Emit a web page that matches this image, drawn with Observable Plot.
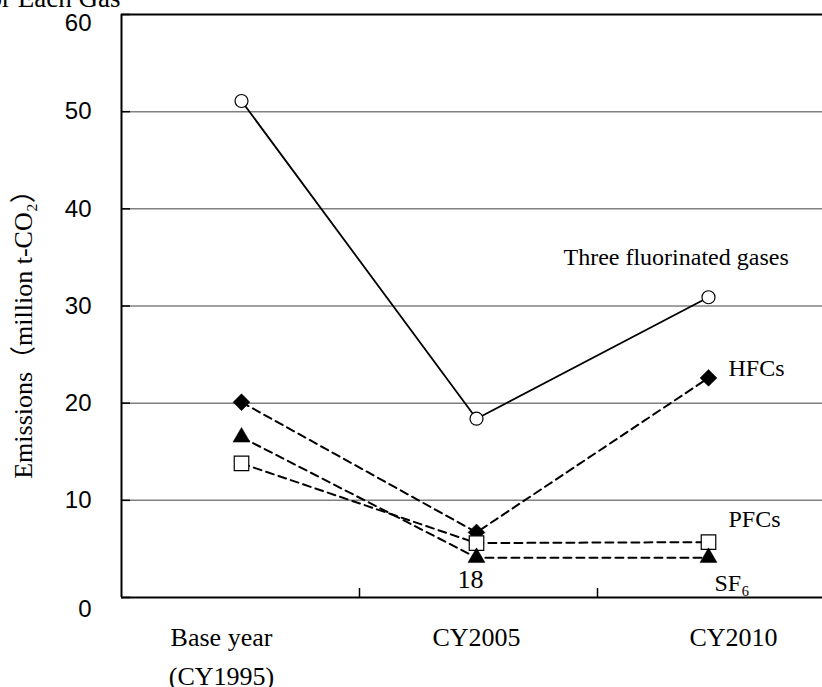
<!DOCTYPE html>
<html>
<head>
<meta charset="utf-8">
<script src="https://cdn.jsdelivr.net/npm/d3@7"></script>
<script src="https://cdn.jsdelivr.net/npm/@observablehq/plot@0.6"></script>
<style>
  html, body { margin: 0; padding: 0; background: #fff; }
  #chart svg { display: block; }
</style>
</head>
<body>
<div id="chart"></div>
<script>
// ---- Data ----
const categories = ["Base year\n(CY1995)", "CY2005", "CY2010"];
const seriesNames = ["Three fluorinated gases", "HFCs", "PFCs", "SF₆"];
const threeGases = [51.1, 18.4, 30.9];
const hfcs = [20.1, 6.7, 22.6];
const pfcs = [13.8, 5.6, 5.7];
const sf6 = [16.5, 4.1, 4.1];
const yTicks = [0, 10, 20, 30, 40, 50, 60];
const totalLabel = "18";
const yLabel = "Emissions（million t-CO₂）";
const title = "Emissions for Each Gas";

// ---- Build rows ----
const seriesValues = [threeGases, hfcs, pfcs, sf6];
const rows = seriesNames.flatMap((name, k) =>
  seriesValues[k].map((v, i) => ({series: name, i, value: v})));
const solidRows = rows.filter(d => d.series === seriesNames[0]);
const dashedRows = rows.filter(d => d.series !== seriesNames[0]);
const bySeries = name => rows.filter(d => d.series === name);
const lastOf = name => bySeries(name).filter(d => d.i === categories.length - 1);

const idx = categories.map((_, i) => i);
const boundaries = idx.slice(1).map(i => i - 0.5);
const leftEdge = -0.5;
const yMin = yTicks[0], yMax = yTicks[yTicks.length - 1];
const yInner = yTicks.filter(t => t > yMin && t < yMax);

const serif = "'Liberation Serif', 'Times New Roman', 'Noto Sans CJK JP', serif";
const sans = "'Liberation Sans', Arial, sans-serif";

const yAxisText = {tickSize: 0, tickPadding: 30, fontSize: 24, fontFamily: sans, label: null};
const xAxisText = {tickFormat: i => categories[i], tickSize: 0, tickPadding: 21,
  fontSize: 26, fontFamily: serif, lineHeight: 1.5, label: null};

const chart = Plot.plot({
  width: 822,
  height: 687,
  marginTop: 14,
  marginBottom: 90,
  marginLeft: 121,
  marginRight: 0,
  style: {color: "black", background: "white", overflow: "visible"},
  x: {type: "linear", domain: [-0.5, 0, 0.5, 1, 1.5, 2], range: [121, 241, 359, 476, 597, 708]},
  y: {domain: [yMin, yMax]},
  marks: [
    // gridlines
    Plot.ruleY(yInner, {stroke: "#808080", strokeWidth: 1.5}),
    // frame (left, top, bottom)
    Plot.ruleY([yMin, yMax], {stroke: "black", strokeWidth: 2}),
    Plot.ruleX([leftEdge], {stroke: "black", strokeWidth: 2}),
    // y axis labels
    Plot.axisY({...yAxisText, ticks: yInner}),
    Plot.axisY({...yAxisText, ticks: [yMax], dy: 9}),
    Plot.axisY({...yAxisText, ticks: [yMin], dy: 12}),
    // inward y ticks
    Plot.axisY({ticks: yTicks, tickSize: -9, tickFormat: () => "", strokeWidth: 1.5, label: null}),
    // x axis labels
    Plot.axisX({...xAxisText, ticks: [idx[0]], dx: -20}),
    Plot.axisX({...xAxisText, ticks: [idx[1]], dx: 0}),
    Plot.axisX({...xAxisText, ticks: [idx[2]], dx: 25}),
    // inward category-boundary ticks
    Plot.axisX({ticks: boundaries, tickSize: -9, tickFormat: () => "", strokeWidth: 1.5, label: null}),
    // y title
    Plot.text([yLabel], {frameAnchor: "left", text: d => d, rotate: -90, dx: -98, dy: 22,
      fontSize: 26, fontFamily: serif, textAnchor: "middle", lineAnchor: "middle"}),
    // chart title (clipped at top-left, as in reference)
    Plot.text([title], {frameAnchor: "top-left", text: d => d, textAnchor: "end", lineAnchor: "bottom",
      dx: -1, dy: -8, fontSize: 27, fontFamily: serif}),
    // lines
    Plot.line(dashedRows, {x: "i", y: "value", z: "series", stroke: "black", strokeWidth: 2, strokeDasharray: "8,5"}),
    Plot.line(solidRows, {x: "i", y: "value", stroke: "black", strokeWidth: 1.8}),
    // markers
    Plot.dot(bySeries(seriesNames[0]), {x: "i", y: "value", symbol: "circle", r: 6.5, fill: "white", stroke: "black", strokeWidth: 1.2}),
    Plot.dot(bySeries(seriesNames[1]), {x: "i", y: "value", symbol: "diamond2", r: 7.6, fill: "black", stroke: "black", strokeWidth: 0.5}),
    Plot.dot(bySeries(seriesNames[2]), {x: "i", y: "value", symbol: "square", r: 8.2, fill: "white", stroke: "black", strokeWidth: 1.2}),
    Plot.dot(bySeries(seriesNames[3]), {x: "i", y: "value", symbol: "triangle2", r: 8.1, fill: "black", stroke: "black", strokeWidth: 0.5}),
    // series labels
    Plot.text(lastOf(seriesNames[0]), {x: "i", y: "value", text: "series", dx: -145, dy: -40, textAnchor: "start", fontSize: 24, fontFamily: serif}),
    Plot.text(lastOf(seriesNames[1]), {x: "i", y: "value", text: "series", dx: 20, dy: -10, textAnchor: "start", fontSize: 24, fontFamily: serif}),
    Plot.text(lastOf(seriesNames[2]), {x: "i", y: "value", text: "series", dx: 20, dy: -23, textAnchor: "start", fontSize: 24, fontFamily: serif}),
    Plot.text(lastOf(seriesNames[3]), {x: "i", y: "value", text: "series", dx: 6, dy: 26, textAnchor: "start", fontSize: 24, fontFamily: serif}),
    // "18" label under CY2005
    Plot.text([totalLabel], {x: () => 1, y: () => 0, text: d => d, dx: -6, dy: -18, fontSize: 26, fontFamily: serif})
  ]
});
document.getElementById("chart").appendChild(chart);
</script>
</body>
</html>
